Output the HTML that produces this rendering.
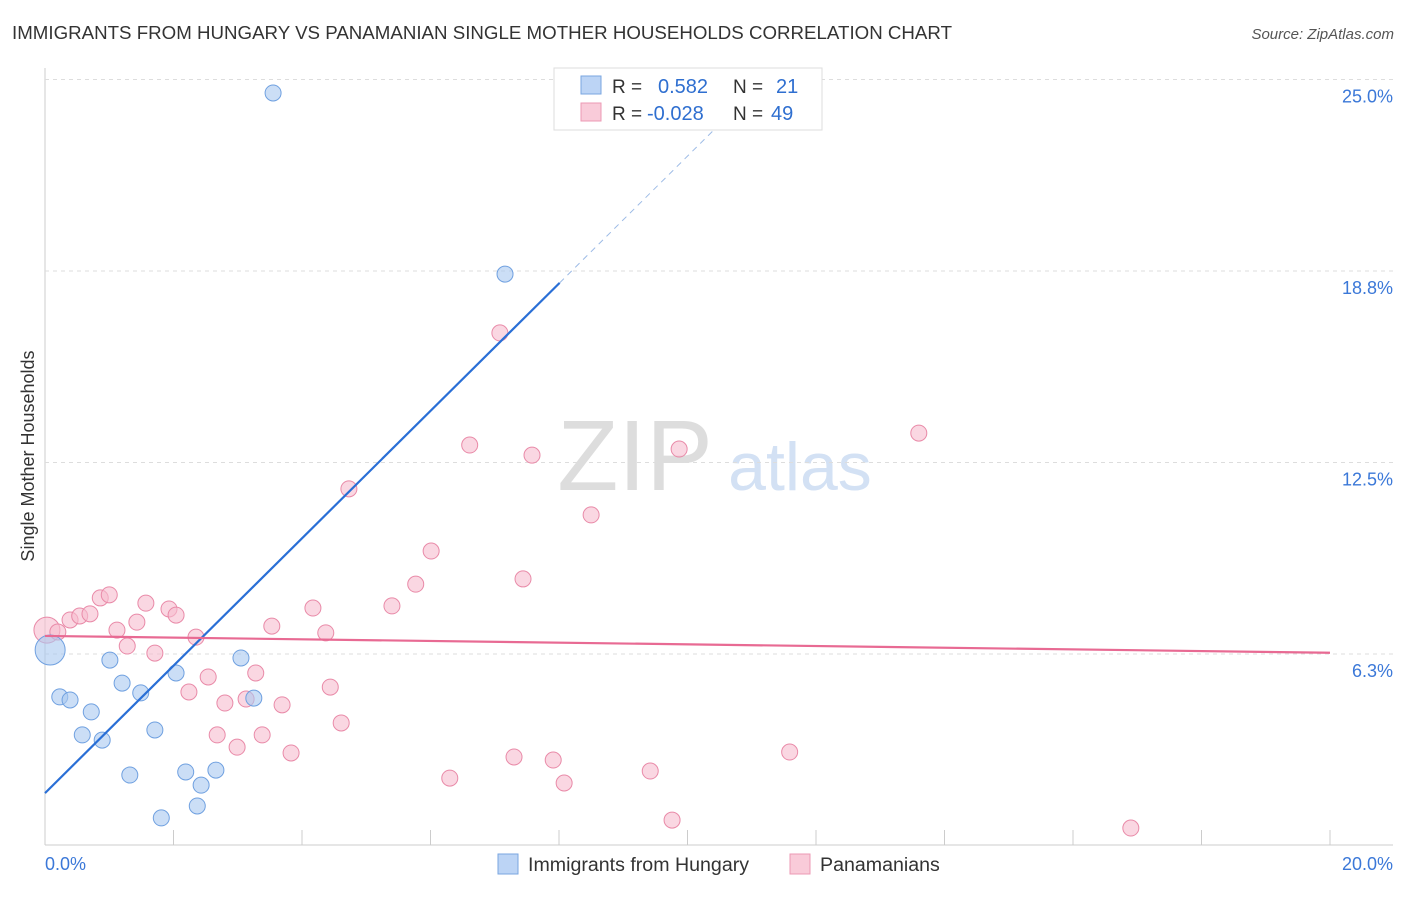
<!DOCTYPE html>
<html><head><meta charset="utf-8"><style>
body{margin:0;background:#fff;font-family:"Liberation Sans",sans-serif}
svg text{font-family:"Liberation Sans",sans-serif}
</style></head><body>
<svg id="c" width="1406" height="892" viewBox="0 0 1406 892">
<text x="12" y="39" font-size="18.7" fill="#333" textLength="940">IMMIGRANTS FROM HUNGARY VS PANAMANIAN SINGLE MOTHER HOUSEHOLDS CORRELATION CHART</text>
<text x="1394" y="39" font-size="15" fill="#555" font-style="italic" text-anchor="end">Source: ZipAtlas.com</text>
<text x="635" y="490" font-size="100" fill="#ddd" font-family="Liberation Serif" text-anchor="middle">ZIP</text>
<text x="800" y="490" font-size="68" fill="#d3e1f4" text-anchor="middle">atlas</text>
<text transform="translate(34,456) rotate(-90)" font-size="18" fill="#333" text-anchor="middle">Single Mother Households</text>
<g id="grid"></g><g id="marks"></g>
<g>
<rect x="554" y="68" width="268" height="62" fill="#fff" stroke="#ddd"/>
<rect x="581" y="76" width="20" height="18" fill="#bcd4f5" stroke="#7aa6e0"/>
<text x="612" y="93" font-size="19" fill="#333">R = </text><text x="658" y="93" font-size="20" fill="#2f6fd0">0.582</text>
<text x="733" y="93" font-size="19" fill="#333">N = </text><text x="776" y="93" font-size="20" fill="#2f6fd0">21</text>
<rect x="581" y="103" width="20" height="18" fill="#f9cbd9" stroke="#ec9ab4"/>
<text x="612" y="120" font-size="19" fill="#333">R = </text><text x="647" y="120" font-size="20" fill="#2f6fd0">-0.028</text>
<text x="733" y="120" font-size="19" fill="#333">N = </text><text x="771" y="120" font-size="20" fill="#2f6fd0">49</text>
</g>
<g>
<rect x="498" y="854" width="20" height="20" fill="#bcd4f5" stroke="#7aa6e0"/>
<text x="528" y="871" font-size="19.6" fill="#333">Immigrants from Hungary</text>
<rect x="790" y="854" width="20" height="20" fill="#f9cbd9" stroke="#ec9ab4"/>
<text x="820" y="871" font-size="19.6" fill="#333">Panamanians</text>
</g>
</svg>
<script>
const yTicks=[6.25,12.5,18.75,25];
const yTickLabels=["6.3%","12.5%","18.8%","25.0%"];
const xTickLabels=["0.0%","20.0%"];
const hungaryX=[3.55,7.16,0.08,0.23,0.39,0.58,0.72,0.89,1.01,1.20,1.32,1.49,1.71,1.81,2.04,2.19,2.37,2.43,2.66,3.05,3.25];
const hungaryY=[24.56,18.65,6.38,4.85,4.75,3.61,4.36,3.44,6.05,5.30,2.30,4.98,3.77,0.90,5.63,2.40,1.29,1.97,2.46,6.12,4.81];
const panamaX=[0.03,0.20,0.39,0.54,0.70,0.86,1.00,1.12,1.28,1.43,1.57,1.71,1.93,2.04,2.24,2.35,2.54,2.68,2.80,2.99,3.13,3.28,3.38,3.53,3.69,3.83,4.17,4.37,4.44,4.61,4.73,5.40,5.77,6.01,6.30,6.61,7.08,7.30,7.44,7.58,7.91,8.08,8.50,9.42,9.76,9.87,11.59,13.60,16.90];
const panamaY=[7.03,6.97,7.36,7.49,7.56,8.08,8.18,7.03,6.51,7.29,7.91,6.28,7.72,7.52,5.01,6.80,5.50,3.61,4.65,3.21,4.78,5.63,3.61,7.16,4.59,3.02,7.75,6.94,5.17,4.00,11.64,7.82,8.53,9.61,2.20,13.07,16.73,2.89,8.70,12.74,2.79,2.04,10.79,2.43,0.83,12.94,3.05,13.46,0.57];
const hungaryTrend=[1.71,2.079];
const panamaTrend=[6.84,-0.0275];
const X0=45,X1=1330,Y0=845.5,YS=191.5/6.25;
const sx=v=>X0+v*(X1-X0)/20, sy=v=>Y0-v*YS;
const NS="http://www.w3.org/2000/svg";
const grid=document.getElementById('grid'), marks=document.getElementById('marks');
function mk(p,tag,a){const e=document.createElementNS(NS,tag);for(const k in a)e.setAttribute(k,a[k]);p.appendChild(e);return e;}
let ax=mk(grid,'line',{x1:X0,y1:68,x2:X0,y2:845,stroke:'#ccc'});


let bx=mk(grid,'line',{x1:X0,y1:845,x2:1393,y2:845,stroke:'#ccc'});


for(let i=0;i<=10;i++){const t=mk(grid,'line',{x1:sx(i*2),y1:830,x2:sx(i*2),y2:845,stroke:'#ccc'});

}
yTicks.forEach((v,i)=>{const g=mk(grid,'line',{x1:X0,y1:sy(v),x2:1393,y2:sy(v),stroke:'#ddd','stroke-dasharray':'4,4'});


const t=mk(grid,'text',{x:1393,y:sy(v)+23,'font-size':18,fill:'#3b78d8','text-anchor':'end'});t.textContent=yTickLabels[i];

});
[[0,'start',45],[20,'end',1393]].forEach((a,i)=>{const t=mk(grid,'text',{x:a[2],y:870,'font-size':18,fill:'#3b78d8','text-anchor':a[1]});t.textContent=xTickLabels[i];

});
function pts(xs,ys,fill,stroke,name){xs.forEach((x,i)=>{const big=i===(name==='hungary'?2:0);
const c=mk(marks,'circle',{cx:sx(x),cy:sy(ys[i]),r:big?(name==='hungary'?15:13):8,fill:fill,'fill-opacity':0.6,stroke:stroke,'stroke-width':1});

});}
pts(panamaX,panamaY,'#f7bccf','#e98aa8','panamanian');
pts(hungaryX,hungaryY,'#a9c8f0','#6fa0e0','hungary');
const hx1=8.01, hx2=(25-hungaryTrend[0])/hungaryTrend[1];
let l1=mk(marks,'line',{x1:sx(0),y1:sy(hungaryTrend[0]),x2:sx(hx1),y2:sy(hungaryTrend[0]+hungaryTrend[1]*hx1),stroke:'#2a6fd6','stroke-width':2.2});


let l2=mk(marks,'line',{x1:sx(hx1),y1:sy(hungaryTrend[0]+hungaryTrend[1]*hx1),x2:sx(hx2),y2:sy(25),stroke:'#9dbbe6','stroke-width':1,'stroke-dasharray':'6,5'});


let l3=mk(marks,'line',{x1:sx(0),y1:sy(panamaTrend[0]),x2:sx(20),y2:sy(panamaTrend[0]+panamaTrend[1]*20),stroke:'#e86a93','stroke-width':2.2});


</script>
</body></html>
